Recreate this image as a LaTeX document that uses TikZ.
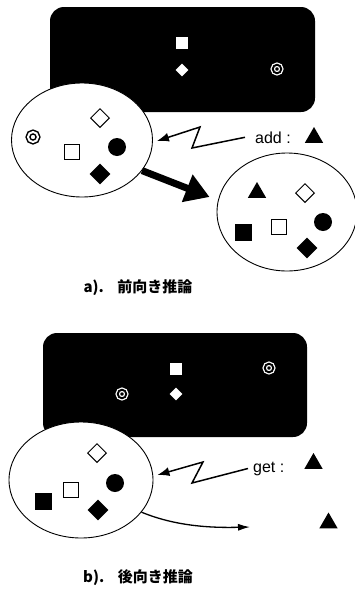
\documentclass[tikz,border=0pt]{standalone}
\usepackage{fontspec}
\setsansfont{Liberation Sans}
\newfontfamily\cjk{Noto Sans CJK JP}
\usetikzlibrary{arrows.meta,shapes.geometric}

\begin{document}
\begin{tikzpicture}[x=1pt,y=-1pt]
\tikzset{board/.style={rectangle,fill=black,rounded corners=14pt,inner sep=0pt}}
\tikzset{memo/.style={ellipse,draw,fill=white,line width=0.9pt,inner sep=0pt}}
\tikzset{wsq/.style={rectangle,fill=white,minimum size=12pt,inner sep=0pt}}
\tikzset{wdia/.style={diamond,fill=white,minimum size=13pt,inner sep=0pt}}
\tikzset{wring/.style={circle,draw=white,double=black,fill=black,line width=1.3pt,double distance=1.9pt,minimum size=8.5pt,inner sep=0pt}}
\tikzset{bring/.style={circle,draw=black,double=white,fill=white,line width=1.5pt,double distance=2pt,minimum size=10pt,inner sep=0pt}}
\tikzset{osq/.style={rectangle,draw,fill=white,line width=1pt,minimum size=15pt,inner sep=0pt}}
\tikzset{bsq/.style={rectangle,fill=black,minimum size=17pt,inner sep=0pt}}
\tikzset{odia/.style={diamond,draw,fill=white,line width=1pt,minimum size=19pt,inner sep=0pt}}
\tikzset{bdia/.style={diamond,fill=black,minimum size=21pt,inner sep=0pt}}
\tikzset{bdot/.style={circle,fill=black,minimum size=18pt,inner sep=0pt}}
\tikzset{btri/.style={regular polygon,regular polygon sides=3,fill=black,minimum size=21pt,inner sep=0pt}}
\tikzset{lbl/.style={anchor=base west,inner sep=2pt,font=\sffamily\fontsize{16pt}{18pt}\selectfont}}
\tikzset{caption/.style={font=\cjk\bfseries\fontsize{15pt}{17pt}\selectfont}}
\tikzset{zig/.style={line width=1.5pt,-{Latex[length=12pt,width=9pt]}}}
\useasboundingbox (0,0) rectangle (354,592);

\node [board,minimum width=265pt,minimum height=105pt] (dba) at (182.5,59.5) {};
\node [wsq] (dbasq) at (182,43) {};
\node [wdia] (dbadia) at (182,70) {};
\node [wring] (dbaring) at (277,69) {};
\node [memo,minimum width=141pt,minimum height=114pt] (ea) at (82,140) {};
\node [bring] (earing) at (33,137) {};
\node [odia] (eadia) at (100,118) {};
\node [osq] (easq) at (72,152) {};
\node [bdot] (eadot) at (117,147) {};
\node [bdia] (eabdia) at (100,174) {};
\node [memo,minimum width=140pt,minimum height=118pt] (er) at (287,212) {};
\node [btri] (ertri) at (257,192.5) {};
\node [odia] (erdia) at (305,193) {};
\node [bsq] (ersq) at (243,232) {};
\node [osq] (erosq) at (279,227) {};
\node [bdot] (erdot) at (323,222) {};
\node [bdia] (erbdia) at (307,248) {};
\node [lbl] (addlbl) at (253,143) {add :};
\node [btri] (addtri) at (314,137.5) {};
\draw [zig] ([xshift=-8pt]addlbl.west) -- (192,148) -- (200,127) -- ([shift={(4,1)}]ea.east);
\draw [line width=7pt,-{Triangle[length=24pt,width=28pt]}] (ea.-27) -- ([shift={(-7,-15)}]er.180);
\node [caption] (capa) at (138,288) {a).\hspace{0.9em}前向き推論};

\node [board,minimum width=264pt,minimum height=104pt] (dbb) at (175,385) {};
\node [wsq] (dbbsq) at (176,369) {};
\node [wdia] (dbbdia) at (176,394) {};
\node [wring] (dbbring) at (122,394) {};
\node [wring] (dbbring2) at (269,368) {};
\node [memo,minimum width=144pt,minimum height=116pt] (eb) at (81,480) {};
\node [odia] (ebdia) at (97,453) {};
\node [bdot] (ebdot) at (115,483) {};
\node [osq] (ebsq) at (71,490) {};
\node [bsq] (ebbsq) at (43,501) {};
\node [bdia] (ebbdia) at (98,510) {};
\node [lbl] (getlbl) at (251,472) {get :};
\node [btri] (gettri) at (313.5,463.5) {};
\node [btri] (goaltri) at (328.5,523) {};
\coordinate (gend) at (250,527);
\draw [zig] ([xshift=-3pt]getlbl.west) -- (192,483) -- (203,462) -- ([shift={(4,-5)}]eb.east);
\draw [line width=1.3pt,-{Latex[length=12pt,width=7pt]}] (eb.-28) .. controls (175,526) and (210,528) .. (gend);
\node [caption] (capb) at (138,578) {b).\hspace{0.9em}後向き推論};
\end{tikzpicture}
\end{document}
